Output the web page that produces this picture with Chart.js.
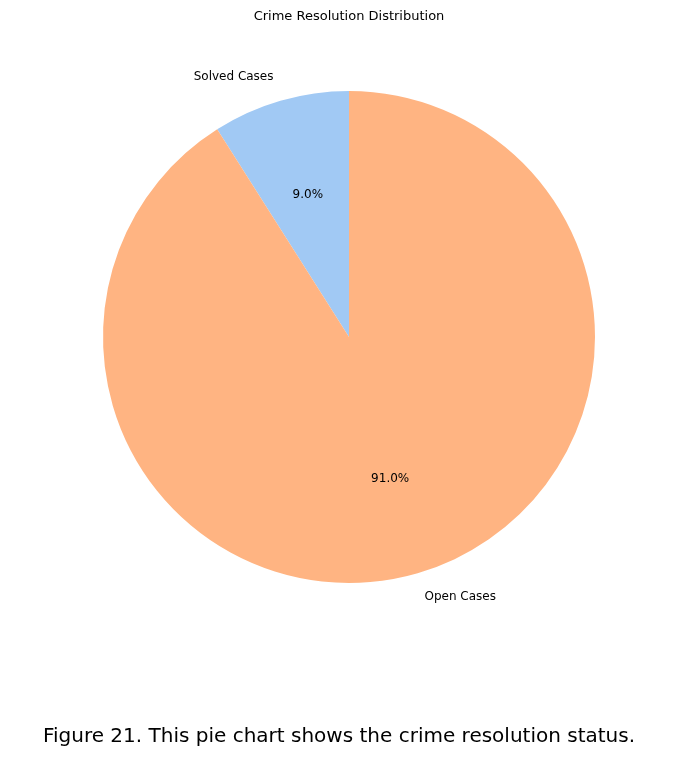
<!DOCTYPE html>
<html><head><meta charset="utf-8">
<script src="https://cdn.jsdelivr.net/npm/chart.js@4"></script>
<style>html,body{margin:0;background:#fff}</style>
</head><body>
<canvas id="c" width="678" height="759"></canvas>
<script>
const labels = ['Solved Cases', 'Open Cases'];
const values = [9.0, 91.0];
const colors = ['#a1c9f4', '#ffb482'];

const FONT = '"DejaVu Sans", sans-serif';

const textPlugin = {
  id: 'mplText',
  afterDraw(chart) {
    const c = chart.ctx;
    const arcs = chart.getDatasetMeta(0).data;
    c.save();
    c.fillStyle = '#000';
    c.font = '13px ' + FONT;
    c.textAlign = 'center'; c.textBaseline = 'middle';
    c.fillText('Crime Resolution Distribution', 349, 17);
    arcs.forEach((a, i) => {
      const mid = (a.startAngle + a.endAngle) / 2;
      const r = a.outerRadius;
      c.font = '12px ' + FONT;
      c.textAlign = 'center';
      c.fillText(values[i].toFixed(1) + '%', a.x + Math.cos(mid) * r * 0.6, a.y + Math.sin(mid) * r * 0.6);
      const lx = a.x + Math.cos(mid) * r * 1.1, ly = a.y + Math.sin(mid) * r * 1.1;
      c.textAlign = Math.cos(mid) < 0 ? 'right' : 'left';
      c.fillText(labels[i], lx, ly);
    });
    c.font = '20px ' + FONT;
    c.textAlign = 'center';
    c.fillText('Figure 21. This pie chart shows the crime resolution status.', 339, 737);
    c.restore();
  }
};

new Chart(document.getElementById('c'), {
  type: 'pie',
  data: { labels, datasets: [{ data: values, backgroundColor: colors, borderWidth: 0 }] },
  options: {
    responsive: false, animation: false,
    rotation: -values[0] / 100 * 360,
    layout: { padding: { top: 91, left: 103, right: 83, bottom: 176 } },
    plugins: { legend: { display: false }, tooltip: { enabled: false } }
  },
  plugins: [textPlugin]
});
</script>
</body></html>
